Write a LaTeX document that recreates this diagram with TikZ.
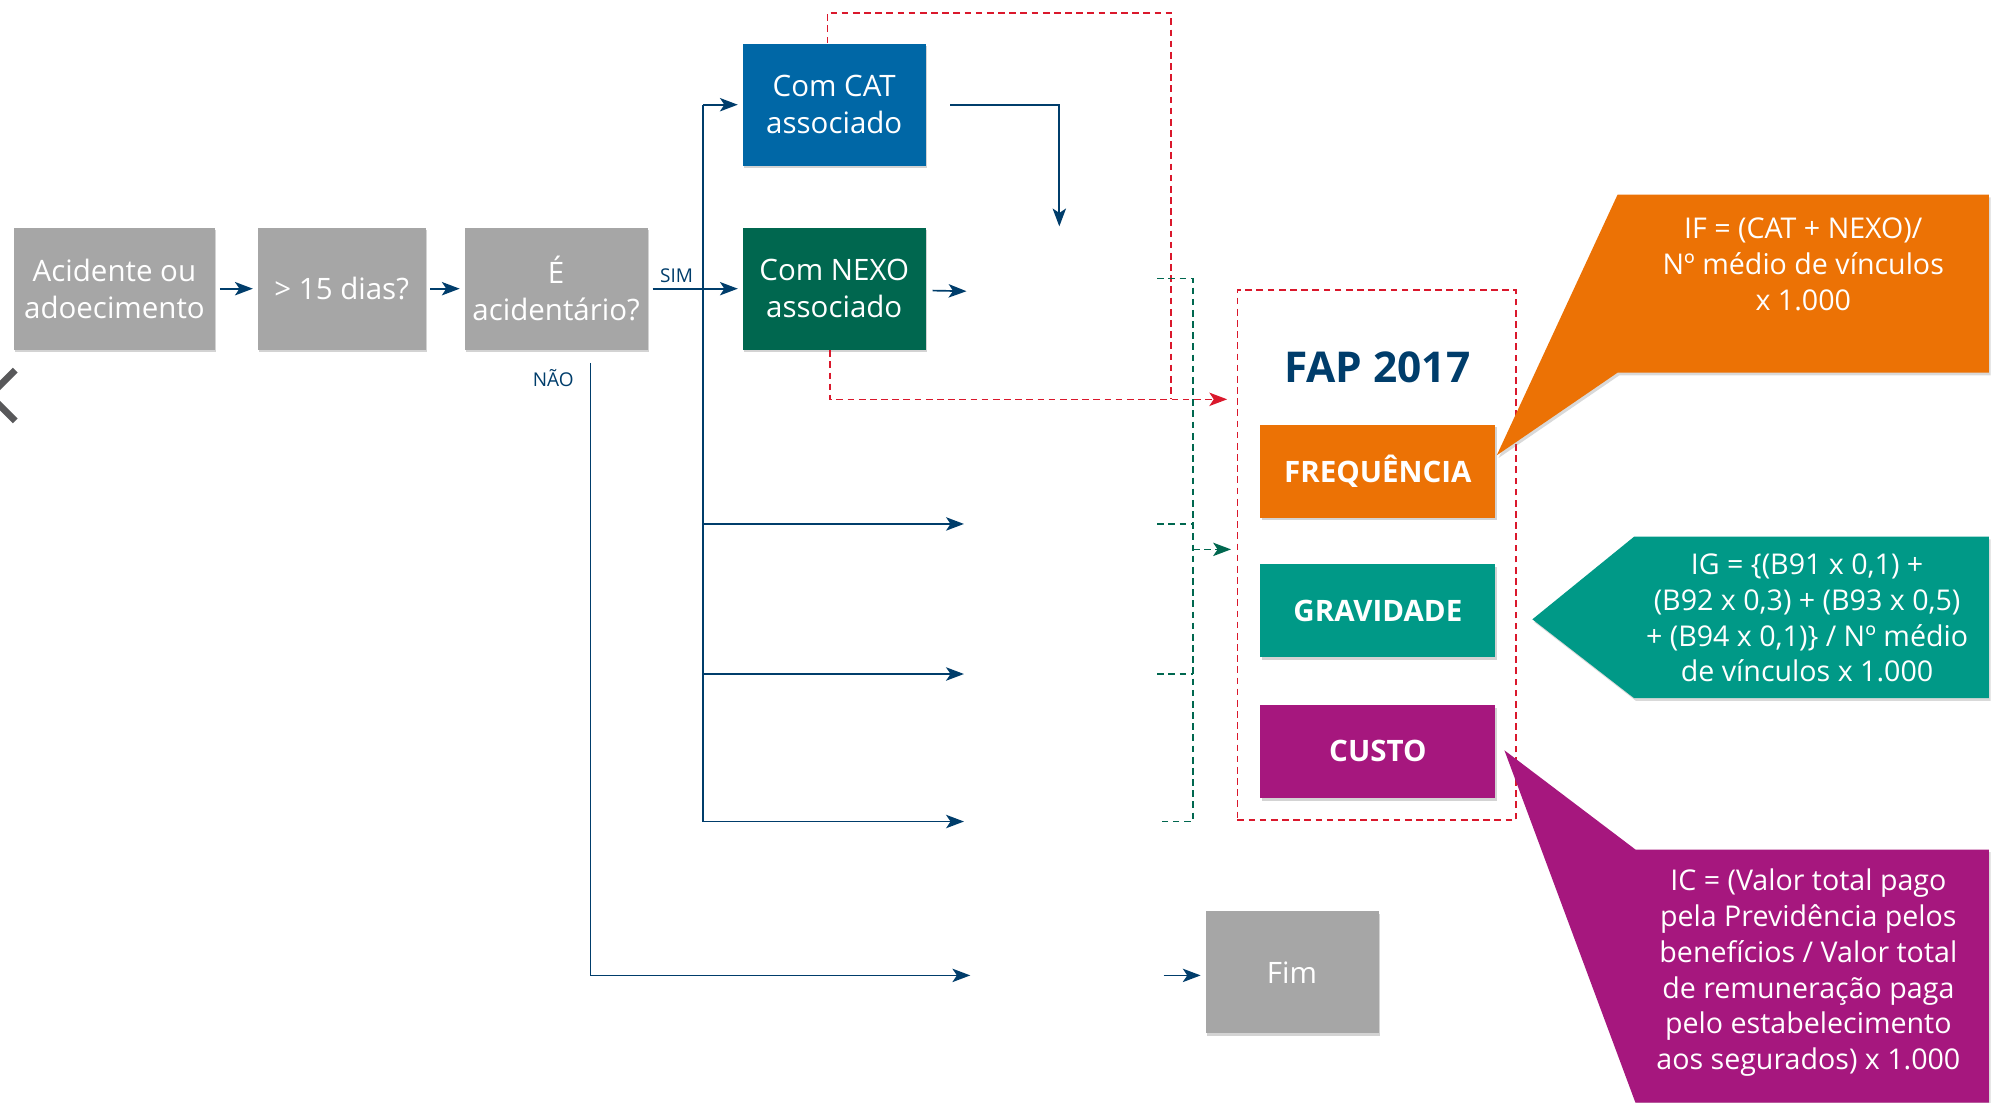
\documentclass[tikz,border=0pt]{standalone}
\usepackage{fontspec}
\setmainfont{Open Sans}
\usepackage{xcolor}
\usepackage{tikz}
\usetikzlibrary{arrows.meta, positioning, shadows, calc}
\definecolor{fapgray}{RGB}{166,166,166}
\definecolor{fapblue}{RGB}{0,103,166}
\definecolor{fapnavy}{RGB}{0,61,107}
\definecolor{fapgreen}{RGB}{0,103,79}
\definecolor{faporange}{RGB}{236,114,5}
\definecolor{fapteal}{RGB}{0,153,135}
\definecolor{fappurple}{RGB}{166,23,126}
\definecolor{fapred}{RGB}{218,24,44}
\definecolor{fapchevron}{RGB}{88,88,90}
\newcommand{\fapboxfont}{\fontsize{13.2}{16.5}\selectfont}
\newcommand{\fapcallfont}{\fontsize{12.8}{16}\selectfont}
\newcommand{\faptagfont}{\fontsize{8.5}{10}\selectfont}

\begin{document}
\begin{tikzpicture}[
    x=0.02cm, y=-0.02cm,   % one unit = one pixel of the layout grid
    box/.style={rectangle, minimum width=2.88cm, minimum height=1.92cm, inner sep=2pt,
                align=center, fill=fapgray, text=white, font=\fapboxfont,
                drop shadow={shadow xshift=0.6pt, shadow yshift=-1.2pt, opacity=0.35}},
    metric/.style={rectangle, minimum width=3.7cm, minimum height=1.46cm,
                   text=white, font=\fapboxfont\bfseries,
                   drop shadow={shadow xshift=0.6pt, shadow yshift=-1.2pt, opacity=0.35}},
    fapframe/.style={rectangle, minimum width=4.38cm, minimum height=8.34cm,
                     draw=fapred, dash pattern=on 3pt off 2pt, line width=0.7pt},
    calltext/.style={align=center, text=white, font=\fapcallfont},
    tag/.style={font=\faptagfont, text=fapnavy},
    line/.style={draw=fapnavy, line width=0.75pt},
    arrow/.style={line, -{Stealth[length=8pt, width=6pt, inset=2pt]}},
    reddash/.style={draw=fapred, dash pattern=on 3pt off 2pt, line width=0.7pt},
    greendash/.style={draw=fapgreen, dash pattern=on 3pt off 2pt, line width=0.7pt},
    shade/.style={drop shadow={shadow xshift=0.8pt, shadow yshift=-1.2pt, opacity=0.3}}
]

\useasboundingbox (0,0) rectangle (1568,867);

% main chain
\node[box, minimum width=3.16cm] (acidente) at (90,227) {Acidente ou\\adoecimento};
\node[box, minimum width=2.64cm, right=0.66cm of acidente] (dias) {> 15 dias?};
\node[box, right=0.6cm of dias] (acident) {É\\acidentário?};
\node[box, fill=fapgreen, right=1.48cm of acident] (nexo) {Com NEXO\\associado};
\node[box, fill=fapblue, above=0.96cm of nexo] (cat) {Com CAT\\associado};
\node[box, minimum width=2.72cm] (fim) at (1016,764.5) {Fim};

% FAP block
\node[fapframe] (fap) at (1082.5,436.5) {};
\node[font=\bfseries\fontsize{19}{22}\selectfont, text=fapnavy] (faptitle) at (1083,289) {FAP 2017};
\node[metric, fill=faporange] (freq) at (1083.5,370.5) {FREQUÊNCIA};
\node[metric, fill=fapteal, below=0.72cm of freq] (grav) {GRAVIDADE};
\node[metric, fill=fappurple, below=0.74cm of grav] (custo) {CUSTO};

% chain arrows
\draw[arrow, shorten <=2pt, shorten >=2pt] (acidente) -- (dias);
\draw[arrow, shorten <=2pt, shorten >=2pt] (dias) -- (acident);
\draw[arrow, shorten <=2pt, shorten >=2pt] (acident) -- (nexo);
\node[tag] (sim) at (532,217) {SIM};
\node[tag] (nao) at (435,297) {NÃO};

% SIM branch
\coordinate (split) at (553,229);
\coordinate (out1) at (758,412);
\coordinate (out2) at (758,530);
\coordinate (out3) at (758,646);
\draw[line] (cat.west -| split) -- (out3 -| split);
\draw[arrow, shorten >=2pt] (cat.west -| split) -- (cat.west);
\draw[arrow] (out1 -| split) -- (out1);
\draw[arrow] (out2 -| split) -- (out2);
\draw[arrow] (out3 -| split) -- (out3);

\coordinate (catend) at (833,178);
\draw[arrow, shorten <=0.38cm] (cat.east) -| (catend);
\coordinate (nexoend) at (760,229);
\draw[arrow, shorten <=0.1cm] (nexo) -- (nexoend);

% NAO branch
\coordinate (naoend) at (763,767);
\draw[arrow] ([xshift=0.54cm, yshift=-0.2cm]acident.south) |- (naoend);
\coordinate (fimstart) at (915,767);
\draw[arrow, shorten >=2pt] (fimstart) -- (fimstart -| fim.west);

% red dashed links
\coordinate (redtop) at (921,10);
\coordinate (fapin) at (965,314);
\draw[reddash] ([xshift=-3pt]cat.north) |- (redtop) -- (redtop |- fapin);
\draw[reddash, -{Stealth[length=8pt, width=6pt, inset=2pt]}] ([xshift=-2pt]nexo.south) |- (fapin);

% green dashed bus
\coordinate (g0) at (910,219);
\coordinate (g1) at (910,412);
\coordinate (g2) at (910,530);
\coordinate (g3) at (910,646);
\coordinate (gbus) at (938,0);
\coordinate (gin) at (968,432);
\draw[greendash] (g0) -- (g0 -| gbus) -- (g3 -| gbus) -- (g3);
\draw[greendash] (g1) -- (g1 -| gbus);
\draw[greendash] (g2) -- (g2 -| gbus);
\draw[greendash, -{Stealth[length=8pt, width=6pt, inset=2pt]}] (gin -| gbus) -- (gin);

% callouts
\fill[faporange, shade] (1177,358) -- (1272,153) -- (1564,153) -- (1564,293) -- (1272,293) -- cycle;
\node[calltext] (iftext) at (1418,208) {IF = (CAT + NEXO)/\\Nº médio de vínculos\\x 1.000};

\fill[fapteal, shade] (1205,487) -- (1285,422) -- (1564,422) -- (1564,549) -- (1285,549) -- cycle;
\node[calltext] (igtext) at (1421,486) {IG = \{(B91 x 0,1) +\\(B92 x 0,3) + (B93 x 0,5)\\+ (B94 x 0,1)\} / Nº médio\\de vínculos x 1.000};

\fill[fappurple, shade] (1183,590) -- (1286,668) -- (1564,668) -- (1564,867) -- (1286,867) -- cycle;
\node[calltext] (ictext) at (1422,765) {IC = (Valor total pago\\pela Previdência pelos\\benefícios / Valor total\\de remuneração paga\\pelo estabelecimento\\aos segurados) x 1.000};

% page chevron
\draw[fapchevron, line width=3pt] (12,291) -- (-8,311) -- (12,331);

\end{tikzpicture}
\end{document}
